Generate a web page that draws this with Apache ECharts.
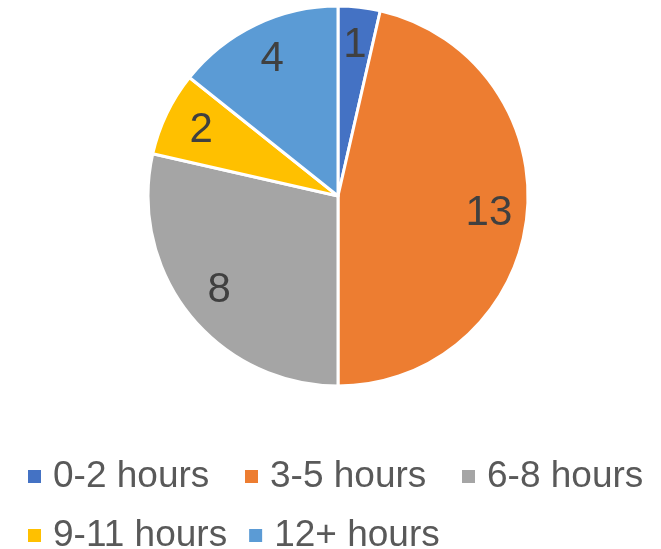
<!DOCTYPE html>
<html>
<head>
<meta charset="utf-8">
<script src="https://cdn.jsdelivr.net/npm/echarts@6/dist/echarts.min.js"></script>
<style>
  html, body { margin: 0; padding: 0; background: #fff; }
  #chart { width: 661px; height: 549px; }
</style>
</head>
<body>
<div id="chart"></div>
<script>
// Hours per category
const categories = ['0-2 hours', '3-5 hours', '6-8 hours', '9-11 hours', '12+ hours'];
const counts = [1, 13, 8, 2, 4];
const colors = ['#4472C4', '#ED7D31', '#A5A5A5', '#FFC000', '#5B9BD5'];

const pieCenter = [338, 196];
const pieRadius = 190;
// inside labels sit at half radius; push them out to ~0.78 of the radius
const labelPush = 1.55;

const chart = echarts.init(document.getElementById('chart'), null, { renderer: 'canvas' });

chart.setOption({
  animation: false,
  color: colors,
  legend: {
    left: 28,
    top: 458,
    width: 640,
    orient: 'horizontal',
    icon: 'rect',
    itemWidth: 13,
    itemHeight: 13,
    itemGap: 22,
    padding: 0,
    itemStyle: { borderWidth: 0 },
    textStyle: {
      fontFamily: 'Liberation Sans, Arial, sans-serif',
      fontSize: 37,
      color: '#595959',
      width: 170,
      overflow: 'none',
      lineHeight: 35,
      padding: [0, 0, 0, 7]
    },
    data: categories
  },
  series: [{
    type: 'pie',
    center: pieCenter,
    radius: [0, pieRadius],
    startAngle: 90,
    clockwise: true,
    avoidLabelOverlap: false,
    itemStyle: { borderColor: '#ffffff', borderWidth: 3 },
    label: {
      show: true,
      position: 'inside',
      formatter: '{c}',
      fontFamily: 'Liberation Sans, Arial, sans-serif',
      fontSize: 42,
      color: '#404040'
    },
    labelLine: { show: false },
    emphasis: { disabled: true },
    labelLayout: function (params) {
      const r = params.labelRect;
      const lx = r.x + r.width / 2;
      const ly = r.y + r.height / 2;
      return {
        x: pieCenter[0] + (lx - pieCenter[0]) * labelPush,
        y: pieCenter[1] + (ly - pieCenter[1]) * labelPush,
        align: 'center',
        verticalAlign: 'middle'
      };
    },
    data: categories.map((name, i) => ({ name: name, value: counts[i] }))
  }]
});
</script>
</body>
</html>
